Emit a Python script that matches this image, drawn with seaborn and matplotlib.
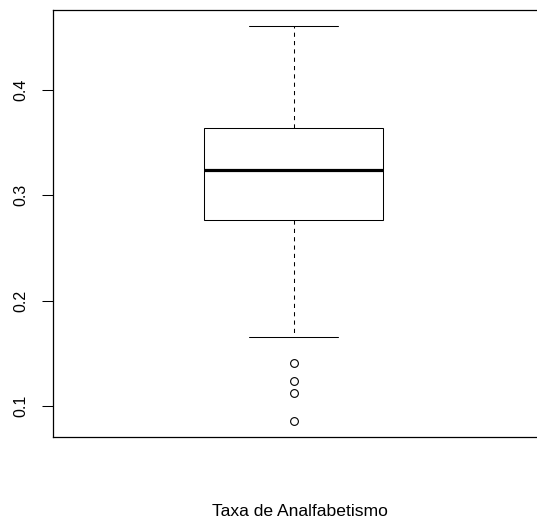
import matplotlib
matplotlib.use("Agg")
import matplotlib.pyplot as plt
import seaborn as sns
import pandas as pd

# Five-number summary of the illiteracy rate plus the flagged outliers
outliers = [0.0852, 0.1127, 0.1237, 0.1404]
whisker_low = 0.1653
q1 = 0.2766
median = 0.3236
q3 = 0.3637
whisker_high = 0.4609

y_ticks = [0.1, 0.2, 0.3, 0.4]
y_tick_labels = ["0.1", "0.2", "0.3", "0.4"]
x_label = "Taxa de Analfabetismo"

# Sample of 21 values whose quartiles (linear interpolation) and whisker ends
# are exactly the summary above
sample = outliers + [whisker_low] + [q1] * 5 + [median] + [q3] * 9 + [whisker_high]
df = pd.DataFrame({"taxa": sample})

sns.set_style("white")
plt.rcParams["font.family"] = ["Liberation Sans", "DejaVu Sans"]
plt.rcParams["text.color"] = "black"
plt.rcParams["axes.labelcolor"] = "black"
plt.rcParams["ytick.color"] = "black"

W, H = 537, 525
fig = plt.figure(figsize=(W / 100, H / 100), dpi=100)
left, right, top, bottom = 52.7, 537.0, 10.0, 437.3
center_px = 293.5
ax = fig.add_axes([left / W, 1 - bottom / H, (right - left) / W, (bottom - top) / H])

lw = 0.75
x_lo = -0.5
x_hi = x_lo + 0.5 * (right - left) / (center_px - left)
box_width = 178.4 / (right - left) * (x_hi - x_lo)

sns.boxplot(
    data=df, y="taxa", ax=ax, width=box_width, color="white", linecolor="black",
    linewidth=lw, saturation=1,
    whiskerprops={"linestyle": (0, (4, 4)), "linewidth": lw},
    capprops={"linewidth": lw},
    medianprops={"linewidth": 2.3, "color": "black"},
    flierprops={"marker": "o", "markersize": 5.6, "markerfacecolor": "none",
                "markeredgecolor": "black", "markeredgewidth": 0.8},
)

ax.set_xlim(x_lo, x_hi)
span = max(sample) - min(sample)
ax.set_ylim(min(sample) - 0.04 * span, max(sample) + 0.04 * span)

ax.set_xticks([])
ax.set_yticks(y_ticks)
ax.set_yticklabels(y_tick_labels, fontsize=11.5, rotation=90, va="center", color="black")
ax.tick_params(axis="y", direction="out", length=7.7, width=lw, color="black",
               pad=10, left=True)
ax.set_ylabel("")

for side in ["top", "left", "bottom"]:
    ax.spines[side].set_visible(True)
    ax.spines[side].set_color("black")
    ax.spines[side].set_linewidth(0.9)
ax.spines["right"].set_visible(False)

ax.set_xlabel(x_label, fontsize=12.6, color="black")
ax.xaxis.set_label_coords((300.4 - left) / (right - left), (bottom - 504.5) / (bottom - top))

fig.savefig("out.png", dpi=100, facecolor="white")
